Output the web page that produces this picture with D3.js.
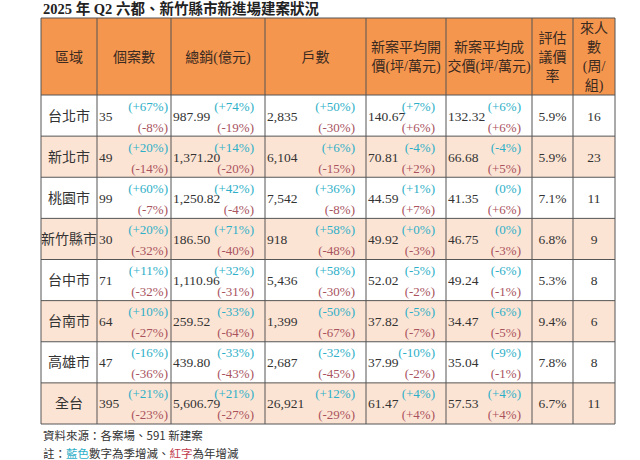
<!DOCTYPE html>
<html><head><meta charset="utf-8">
<script src="https://cdn.jsdelivr.net/npm/d3@7"></script>
<style>body{margin:0;background:#fff}</style></head>
<body><svg id="c" width="640" height="460"></svg>
<script>
const title = "2025 年 Q2 六都、新竹縣市新進場建案狀況";
const headers = [["區域"],["個案數"],["總銷(億元)"],["戶數"],["新案平均開","價(坪/萬元)"],["新案平均成","交價(坪/萬元)"],["評估","議價","率"],["來人","數","(周/","組)"]];
const regions = ["台北市","新北市","桃園市","新竹縣市","台中市","台南市","高雄市","全台"];
const cases = ["35","49","99","30","71","64","47","395"];
const casesQ = ["+67%","+20%","+60%","+20%","+11%","+10%","-16%","+21%"];
const casesY = ["-8%","-14%","-7%","-32%","-32%","-27%","-36%","-23%"];
const sales = ["987.99","1,371.20","1,250.82","186.50","1,110.96","259.52","439.80","5,606.79"];
const salesQ = ["+74%","+14%","+42%","+71%","+32%","-33%","-33%","+21%"];
const salesY = ["-19%","-20%","-4%","-40%","-31%","-64%","-43%","-27%"];
const units = ["2,835","6,104","7,542","918","5,436","1,399","2,687","26,921"];
const unitsQ = ["+50%","+6%","+36%","+58%","+58%","-50%","-32%","+12%"];
const unitsY = ["-30%","-15%","-8%","-48%","-30%","-67%","-45%","-29%"];
const openP = ["140.67","70.81","44.59","49.92","52.02","37.82","37.99","61.47"];
const openQ = ["+7%","-4%","+1%","+0%","-5%","-5%","-10%","+4%"];
const openY = ["+6%","+2%","+7%","-3%","-2%","-7%","-2%","+4%"];
const dealP = ["132.32","66.68","41.35","46.75","49.24","34.47","35.04","57.53"];
const dealQ = ["+6%","-4%","0%","0%","-6%","-6%","-9%","+4%"];
const dealY = ["+6%","+5%","+6%","-3%","-1%","-5%","-1%","+4%"];
const bargain = ["5.9%","5.9%","7.1%","6.8%","5.3%","9.4%","7.8%","6.7%"];
const visitors = ["16","23","11","9","8","6","8","11"];
const source = "資料來源：各案場、591 新建案";

(function(){
const svg = d3.select("#c");
const edges = [41,97,171,265,366,446,532,573,615];
const colX = d3.scaleOrdinal().domain(d3.range(8)).range(edges.slice(0,8));
const colW = i => edges[i+1]-edges[i];
const tTop = 18, headH = 77, tBot = 424;
const y = d3.scaleBand().domain(d3.range(8)).range([tTop+headH, tBot]);
const serif = "'Liberation Serif','Noto Sans CJK TC',serif";
const ORANGE="#F5964F", PINK="#FCE4D4", BLUE="#2EAFC8", RED="#A9535E", TXT="#333";

svg.append("text").attr("x",43).attr("y",14).attr("font-family",serif).attr("font-size",14.5).attr("font-weight","bold").attr("fill","#222").text(title);

svg.append("rect").attr("x",edges[0]).attr("y",tTop).attr("width",edges[8]-edges[0]).attr("height",headH).attr("fill",ORANGE);
regions.forEach((r,i)=>svg.append("rect").attr("x",edges[0]).attr("y",y(i)).attr("width",edges[8]-edges[0]).attr("height",y.bandwidth()).attr("fill",i%2?PINK:"#fff"));

headers.forEach((h,i)=>{
  const lh = 19, n=h.length, cy = tTop+headH/2;
  h.forEach((t,k)=>svg.append("text").attr("x",colX(i)+colW(i)/2).attr("y",cy+(k-(n-1)/2)*lh+5)
    .attr("text-anchor","middle").attr("font-family",serif).attr("font-size",14).attr("fill","#3a2a20").text(t));
});

const cols = [[cases,casesQ,casesY],[sales,salesQ,salesY],[units,unitsQ,unitsY],[openP,openQ,openY],[dealP,dealQ,dealY]];
regions.forEach((r,i)=>{
  const cy = y(i)+y.bandwidth()/2;
  svg.append("text").attr("x",colX(0)+colW(0)/2).attr("y",cy+5).attr("text-anchor","middle").attr("font-family",serif).attr("font-size",14).attr("fill",TXT).text(r);
  cols.forEach((c,j)=>{
    const ci=j+1, x0=colX(ci), w=colW(ci);
    svg.append("text").attr("x",x0+2).attr("y",cy+5).attr("font-family",serif).attr("font-size",13.5).attr("fill",TXT).text(c[0][i]);
    const cx = j===0 ? x0+w-3 : x0+w-11;
    svg.append("text").attr("x",cx).attr("y",cy-5).attr("text-anchor","end").attr("font-family",serif).attr("font-size",13).attr("fill",BLUE).text("("+c[1][i]+")");
    svg.append("text").attr("x",cx).attr("y",cy+16).attr("text-anchor","end").attr("font-family",serif).attr("font-size",13).attr("fill",RED).text("("+c[2][i]+")");
  });
  [bargain,visitors].forEach((c,j)=>{
    const ci=6+j;
    svg.append("text").attr("x",colX(ci)+colW(ci)/2).attr("y",cy+5).attr("text-anchor","middle").attr("font-family",serif).attr("font-size",13.5).attr("fill",TXT).text(c[i]);
  });
});

edges.forEach(x=>svg.append("line").attr("x1",x).attr("x2",x).attr("y1",tTop).attr("y2",tBot).attr("stroke","#555").attr("stroke-width",1));
[tTop, ...d3.range(8).map(i=>y(i)), tBot].forEach(v=>svg.append("line").attr("x1",edges[0]).attr("x2",edges[8]).attr("y1",v).attr("y2",v).attr("stroke","#555").attr("stroke-width",1));

const sans="'Noto Sans CJK TC',sans-serif";
svg.append("text").attr("x",43).attr("y",440).attr("font-family",sans).attr("font-size",11.5).attr("fill","#333").text(source);
const note = svg.append("text").attr("x",43).attr("y",458).attr("font-family",sans).attr("font-size",11.5).attr("fill","#333");
note.append("tspan").text("註：");
note.append("tspan").attr("fill",BLUE).text("藍色");
note.append("tspan").text("數字為季增減、");
note.append("tspan").attr("fill","#C0394B").text("紅字");
note.append("tspan").text("為年增減");
})();
</script></body></html>
